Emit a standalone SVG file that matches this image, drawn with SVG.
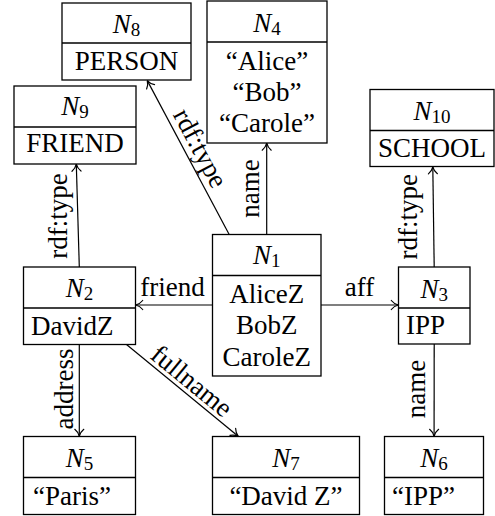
<svg xmlns="http://www.w3.org/2000/svg" width="495" height="516" viewBox="0 0 495 516" font-family="'Liberation Serif', 'DejaVu Serif', serif" font-size="27">
<style>
text{font-family:"Liberation Serif","DejaVu Serif",serif;font-size:27px;fill:#000}
.box{fill:#fff;stroke:#000;stroke-width:1.3}
.div{stroke:#000;stroke-width:1.3}
.edge{fill:none;stroke:#000;stroke-width:1.2;marker-end:url(#arr)}
.c{text-anchor:middle}
.it{font-style:italic}
.sub{font-size:19px}
</style>
<defs>
<marker id="arr" viewBox="-10 -6 12 12" refX="0" refY="0" markerWidth="12" markerHeight="12" orient="auto" markerUnits="userSpaceOnUse">
<path d="M-7,-4.5 C-5,-2 -2,-0.5 0,0 C-2,0.5 -5,2 -7,4.5" fill="none" stroke="#000" stroke-width="1.2" stroke-linecap="round"/>
</marker>
</defs>
<g id="connectors">
<line class="edge" x1="229.2" y1="234.5" x2="147.3" y2="80.6"/>
<line class="edge" x1="266.7" y1="234.5" x2="266.7" y2="143.2"/>
<line class="edge" x1="212.5" y1="305" x2="135.7" y2="305"/>
<line class="edge" x1="321" y1="305" x2="398.3" y2="305"/>
<line class="edge" x1="79.3" y1="267" x2="76.3" y2="164.2"/>
<line class="edge" x1="434.2" y1="267" x2="432.8" y2="166.8"/>
<line class="edge" x1="79.3" y1="344.5" x2="79.3" y2="436.3"/>
<line class="edge" x1="126.5" y1="344.5" x2="238.2" y2="436.3"/>
<line class="edge" x1="434.2" y1="344" x2="434.1" y2="436.3"/>
<text class="c" transform="translate(192.6,152.2) rotate(62)">rdf:type</text>
<text class="c" transform="translate(259,188.5) rotate(-90)">name</text>
<text class="c" x="172.5" y="296">friend</text>
<text class="c" x="359.5" y="296">aff</text>
<text class="c" transform="translate(66.5,216) rotate(-90)">rdf:type</text>
<text class="c" transform="translate(416.5,216.7) rotate(-90)">rdf:type</text>
<text class="c" transform="translate(73,389) rotate(-90)">address</text>
<text class="c" transform="translate(186.2,388) rotate(39.4)">fullname</text>
<text class="c" transform="translate(424.5,389) rotate(-90)">name</text>
</g>
<g id="N8">
<rect class="box" x="62" y="3" width="129" height="77"/>
<line class="div" x1="62" y1="43" x2="191" y2="43"/>
<text class="c" x="126.5" y="33"><tspan class="it">N</tspan><tspan class="sub" dy="3">8</tspan></text>
<text class="c" x="126.5" y="70">PERSON</text>
</g>
<g id="N4">
<rect class="box" x="207" y="1" width="120" height="142"/>
<line class="div" x1="207" y1="42" x2="327" y2="42"/>
<text class="c" x="267" y="31.7"><tspan class="it">N</tspan><tspan class="sub" dy="3">4</tspan></text>
<text class="c" x="267" y="70">“Alice”</text>
<text class="c" x="267" y="101">“Bob”</text>
<text class="c" x="267" y="131.7">“Carole”</text>
</g>
<g id="N9">
<rect class="box" x="14" y="86" width="122" height="78"/>
<line class="div" x1="14" y1="127" x2="136" y2="127"/>
<text class="c" x="75" y="115"><tspan class="it">N</tspan><tspan class="sub" dy="3">9</tspan></text>
<text class="c" x="75" y="151.7">FRIEND</text>
</g>
<g id="N10">
<rect class="box" x="370" y="89.5" width="124" height="77"/>
<line class="div" x1="370" y1="130.5" x2="494" y2="130.5"/>
<text class="c" x="432" y="120"><tspan class="it">N</tspan><tspan class="sub" dy="3">10</tspan></text>
<text class="c" x="432" y="157.3">SCHOOL</text>
</g>
<g id="N1">
<rect class="box" x="212.5" y="234.5" width="108.5" height="141.5"/>
<line class="div" x1="212.5" y1="275.5" x2="321" y2="275.5"/>
<text class="c" x="266.7" y="264.3"><tspan class="it">N</tspan><tspan class="sub" dy="3">1</tspan></text>
<text class="c" x="266.7" y="302.7">AliceZ</text>
<text class="c" x="266.7" y="334.3">BobZ</text>
<text class="c" x="266.7" y="365.7">CaroleZ</text>
</g>
<g id="N2">
<rect class="box" x="23.5" y="267" width="112" height="77.5"/>
<line class="div" x1="23.5" y1="308" x2="135.5" y2="308"/>
<text class="c" x="79.5" y="297.3"><tspan class="it">N</tspan><tspan class="sub" dy="3">2</tspan></text>
<text x="31" y="335">DavidZ</text>
</g>
<g id="N3">
<rect class="box" x="398.5" y="267" width="71.5" height="77"/>
<line class="div" x1="398.5" y1="308" x2="470" y2="308"/>
<text class="c" x="434.2" y="297.7"><tspan class="it">N</tspan><tspan class="sub" dy="3">3</tspan></text>
<text x="406" y="334.3">IPP</text>
</g>
<g id="N5">
<rect class="box" x="23.5" y="436.5" width="112" height="78"/>
<line class="div" x1="23.5" y1="477.5" x2="135.5" y2="477.5"/>
<text class="c" x="79.5" y="466.7"><tspan class="it">N</tspan><tspan class="sub" dy="3">5</tspan></text>
<text x="33" y="505">“Paris”</text>
</g>
<g id="N7">
<rect class="box" x="212.5" y="436.5" width="147" height="78"/>
<line class="div" x1="212.5" y1="477.5" x2="359.5" y2="477.5"/>
<text class="c" x="286" y="466.7"><tspan class="it">N</tspan><tspan class="sub" dy="3">7</tspan></text>
<text class="c" x="286" y="505">“David Z”</text>
</g>
<g id="N6">
<rect class="box" x="384.5" y="436.5" width="99" height="78"/>
<line class="div" x1="384.5" y1="477.5" x2="483.5" y2="477.5"/>
<text class="c" x="434" y="466.7"><tspan class="it">N</tspan><tspan class="sub" dy="3">6</tspan></text>
<text x="392" y="505">“IPP”</text>
</g>
</svg>
